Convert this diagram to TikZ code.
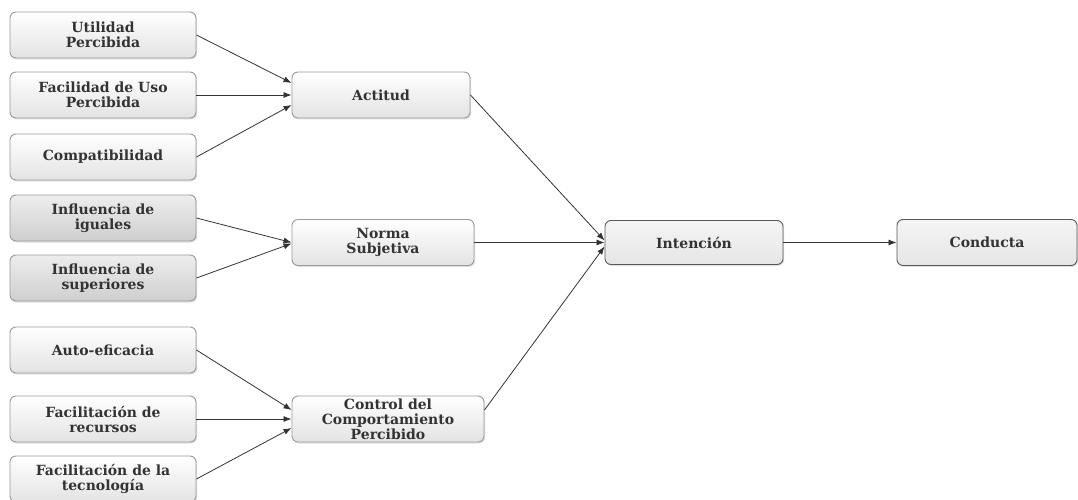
\documentclass[tikz,border=0pt]{standalone}
\usepackage{fontspec}
\setmainfont{DejaVu Serif}
\usetikzlibrary{arrows.meta,shadows}
\definecolor{txt}{HTML}{333333}
\definecolor{edge}{HTML}{9A9A9A}
\tikzset{
  box/.style={draw=edge, line width=0.9pt, rounded corners=6pt, top color=white, bottom color=gray!22,
    minimum height=46pt, align=center, font=\fontsize{14}{15}\selectfont\bfseries, text=txt,
    inner sep=2pt, drop shadow={shadow xshift=1.2pt, shadow yshift=-1.5pt, opacity=0.25}},
  lbox/.style={box, minimum width=186pt},
  gbox/.style={lbox, top color=gray!14, bottom color=gray!38},
  obox/.style={box, draw=gray!70!black, top color=gray!8, bottom color=gray!20},
  conn/.style={draw=black!80, line width=0.8pt, -{Latex[length=8pt,width=6pt]}},
}
\begin{document}
\begin{tikzpicture}[x=1pt,y=-1pt]
\useasboundingbox (0,0) rectangle (1078,500);
\clip (0,0) rectangle (1078,500);
\node[lbox] (u) at (103,35) {Utilidad\\Percibida};
\node[lbox] (f) at (103,95) {Facilidad de Uso\\Percibida};
\node[lbox] (c) at (103,157) {Compatibilidad};
\node[gbox] (ig) at (103,218) {Influencia de\\iguales};
\node[gbox] (is) at (103,278) {Influencia de\\superiores};
\node[lbox] (ae) at (103,350) {Auto-eficacia};
\node[lbox] (fr) at (103,419) {Facilitación de\\recursos};
\node[lbox] (ft) at (103,479) {Facilitación de la\\tecnología};

\node[box, minimum width=178pt] (a) at (381,95) {Actitud};
\node[box, minimum width=182pt] (n) at (383,242.5) {Norma\\Subjetiva};
\node[box, minimum width=192pt] (k) at (388,419) {Control del\\Comportamiento\\Percibido};

\node[obox, minimum width=178pt, minimum height=44pt] (i) at (694,242.5) {Intención};
\node[obox, minimum width=180pt, minimum height=46pt] (d) at (987,242.5) {Conducta};

\draw[conn] (u.east) -- ([yshift=12pt]a.west);
\draw[conn] (f.east) -- (a.west);
\draw[conn] (c.east) -- ([yshift=-10pt]a.west);
\draw[conn] (ig.east) -- ([yshift=0pt]n.west);
\draw[conn] (is.east) -- ([yshift=-1pt]n.west);
\draw[conn] (ae.east) -- ([yshift=9pt]k.west);
\draw[conn] (fr.east) -- (k.west);
\draw[conn] (ft.east) -- ([yshift=-9pt]k.west);
\draw[conn] (a.east) -- ([yshift=2pt]i.west);
\draw[conn] (n.east) -- (i.west);
\draw[conn] ([yshift=9pt]k.east) -- ([yshift=-4pt]i.west);
\draw[conn] (i.east) -- (d.west);
\end{tikzpicture}
\end{document}
